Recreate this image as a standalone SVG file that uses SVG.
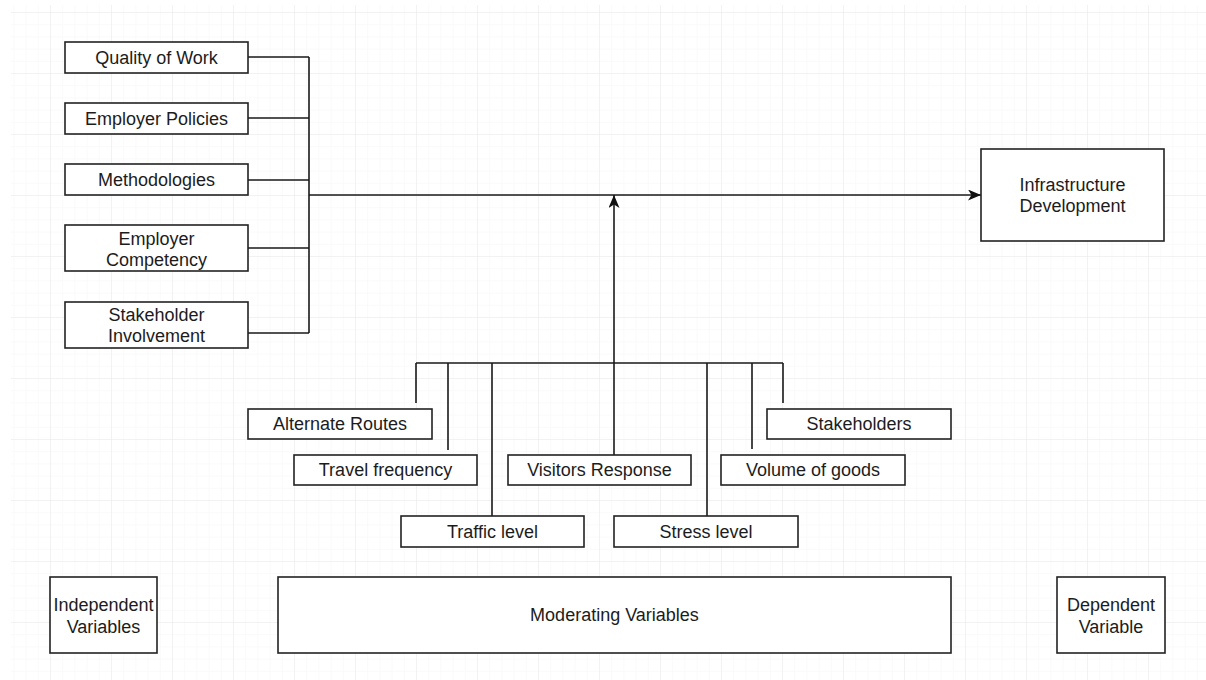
<svg xmlns="http://www.w3.org/2000/svg" width="1206" height="680" viewBox="0 0 1206 680">
<defs>
<pattern id="minor" x="-11" y="-49" width="12.2" height="12.2" patternUnits="userSpaceOnUse">
<path d="M0,0 H12.2 M0,0 V12.2" fill="none" stroke="#f6f6f6" stroke-width="1"/>
</pattern>
<pattern id="major" x="-11" y="-49" width="61" height="61" patternUnits="userSpaceOnUse">
<path d="M0,0 H61 M0,0 V61" fill="none" stroke="#e9e9e9" stroke-width="1"/>
</pattern>
<marker id="arr" viewBox="0 0 13 11" refX="13" refY="5.5" markerWidth="13" markerHeight="11" markerUnits="userSpaceOnUse" orient="auto">
<path d="M0,0 L13,5.5 L0,11 L3.5,5.5 z" fill="#111"/>
</marker>
<style>
.box{fill:#fff;stroke:#222;stroke-width:1.6}
.t{fill:#1c1c1c;text-anchor:middle}
.c{fill:none;stroke:#1a1a1a;stroke-width:1.6}
</style>
</defs>
<rect x="0" y="0" width="1206" height="680" fill="#fff"/>
<rect x="11" y="5" width="1195" height="675" fill="url(#minor)"/>
<rect x="11" y="5" width="1195" height="675" fill="url(#major)"/>

<g id="connectors">
<path class="c" d="M248,57 H309 M248,118 H309 M248,180 H309 M248,248 H309 M248,333 H309 M309,57 V333"/>
<path class="c" d="M309,195 H981" marker-end="url(#arr)"/>
<path class="c" d="M614,455 V195" marker-end="url(#arr)"/>
<path class="c" d="M416,363 H783 M416,363 V403 M448,363 V450 M492,363 V516 M707,363 V516 M752,363 V449 M783,363 V403"/>
</g>

<g font-family="'Liberation Sans', Arial, sans-serif" font-size="18">
<g id="quality"><rect class="box" x="65" y="42" width="183" height="31"/><text class="t" x="156.5" y="63.5">Quality of Work</text></g>
<g id="policies"><rect class="box" x="65" y="103" width="183" height="31"/><text class="t" x="156.5" y="124.5">Employer Policies</text></g>
<g id="methodologies"><rect class="box" x="65" y="164" width="183" height="31"/><text class="t" x="156.5" y="185.5">Methodologies</text></g>
<g id="competency"><rect class="box" x="65" y="225" width="183" height="46"/><text class="t" x="156.5" y="245">Employer</text><text class="t" x="156.5" y="266">Competency</text></g>
<g id="involvement"><rect class="box" x="65" y="302" width="183" height="46"/><text class="t" x="156.5" y="321">Stakeholder</text><text class="t" x="156.5" y="342">Involvement</text></g>

<g id="infra"><rect class="box" x="981" y="149" width="183" height="92"/><text class="t" x="1072.5" y="191">Infrastructure</text><text class="t" x="1072.5" y="212">Development</text></g>

<g id="alternate"><rect class="box" x="248" y="409" width="184" height="30"/><text class="t" x="340" y="430">Alternate Routes</text></g>
<g id="stakeholders"><rect class="box" x="767" y="409" width="184" height="30"/><text class="t" x="859" y="430">Stakeholders</text></g>
<g id="travel"><rect class="box" x="294" y="455" width="183" height="30"/><text class="t" x="385.5" y="476">Travel frequency</text></g>
<g id="visitors"><rect class="box" x="508" y="455" width="183" height="30"/><text class="t" x="599.5" y="476">Visitors Response</text></g>
<g id="volume"><rect class="box" x="721" y="455" width="184" height="30"/><text class="t" x="813" y="476">Volume of goods</text></g>
<g id="traffic"><rect class="box" x="401" y="516" width="183" height="31"/><text class="t" x="492.5" y="537.5">Traffic level</text></g>
<g id="stress"><rect class="box" x="614" y="516" width="184" height="31"/><text class="t" x="706" y="537.5">Stress level</text></g>

<g id="independent"><rect class="box" x="50" y="577" width="107" height="76"/><text class="t" x="103.5" y="611">Independent</text><text class="t" x="103.5" y="633">Variables</text></g>
<g id="moderating"><rect class="box" x="278" y="577" width="673" height="76"/><text class="t" x="614.5" y="621">Moderating Variables</text></g>
<g id="dependent"><rect class="box" x="1057" y="577" width="108" height="76"/><text class="t" x="1111" y="611">Dependent</text><text class="t" x="1111" y="633">Variable</text></g>
</g>
</svg>
